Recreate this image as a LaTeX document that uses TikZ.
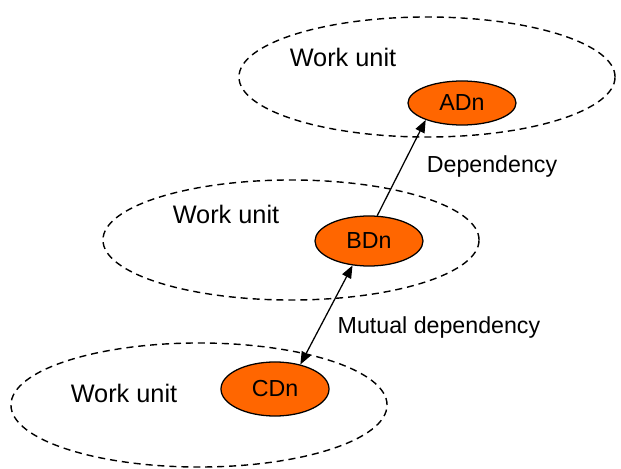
\documentclass[tikz,border=0pt]{standalone}
\usepackage{fontspec}
\setmainfont{Liberation Sans}
\usepackage{xcolor}
\usetikzlibrary{shapes.geometric, arrows.meta, positioning}
\definecolor{dnorange}{RGB}{255,102,0}

\begin{document}
\begin{tikzpicture}[
    x=0.025cm, y=0.025cm,
    unit/.style={ellipse, draw, line width=1pt, dash pattern=on 5pt off 3.5pt, minimum width=9.4cm, minimum height=3cm},
    dn/.style={ellipse, draw, line width=0.9pt, fill=dnorange, minimum width=2.7cm, minimum height=1.25cm, font=\fontsize{16.5}{18}\selectfont},
    lbl/.style={font=\fontsize{16.5}{18}\selectfont},
    wu/.style={font=\fontsize{18}{20}\selectfont},
    arrow/.style={-{Triangle[length=9pt, width=7pt]}, line width=0.9pt}
]
\useasboundingbox (0,0) rectangle (621,469);

\node[unit] (unitA) at (427,392) {};
\node[unit] (unitB) at (291,229) {};
\node[unit, minimum height=3.1cm] (unitC) at (199,64) {};

\node[wu] (wuA) at (343,412) {Work unit};
\node[wu] (wuB) at (226,255) {Work unit};
\node[wu] (wuC) at (124,76) {Work unit};

\node[dn, minimum height=1.1cm] (ad) at (462,366) {ADn};
\node[dn] (bd) at (369,228) {BDn};
\node[dn, minimum height=1.35cm] (cd) at (275,80) {CDn};

\node[lbl] (dep) at (492,302) {Dependency};
\node[lbl] (mutual) at (439,141) {Mutual dependency};

\draw[arrow] (bd.72) -- (ad.205);
\draw[arrow, {Triangle[length=9pt, width=7pt]}-{Triangle[length=9pt, width=7pt]}] (bd.236) -- (cd.44);

\end{tikzpicture}
\end{document}
